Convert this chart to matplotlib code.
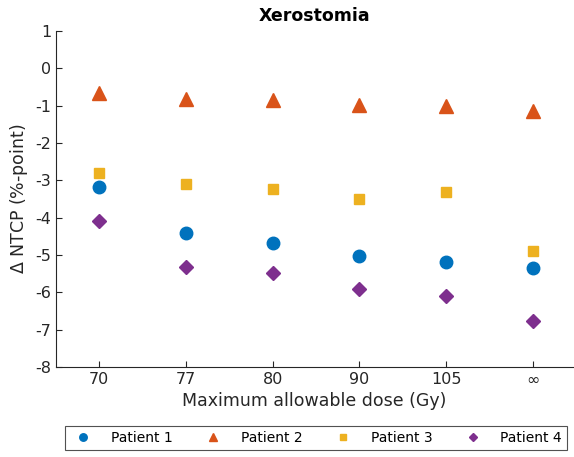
import matplotlib
matplotlib.use('Agg')
import matplotlib.pyplot as plt
import numpy as np

plt.rcParams['axes.unicode_minus'] = False

# 数据
dose_labels = ['70', '77', '80', '90', '105', r'$\infty$']
patient1 = [-3.19, -4.42, -4.69, -5.04, -5.20, -5.34]
patient2 = [-0.67, -0.83, -0.86, -0.97, -1.02, -1.13]
patient3 = [-2.79, -3.11, -3.24, -3.49, -3.30, -4.88]
patient4 = [-4.10, -5.31, -5.47, -5.92, -6.11, -6.78]
names = ['Patient 1', 'Patient 2', 'Patient 3', 'Patient 4']

colors = ['#0072BD', '#D95319', '#EDB120', '#7E2F8E']
markers = ['o', '^', 's', 'D']
sizes = [9, 9.5, 7.5, 7]

fig = plt.figure(figsize=(5.74, 4.57), dpi=100)
ax = fig.add_axes([0.0976, 0.197, 0.9, 0.735])

x = np.arange(1, len(dose_labels) + 1)
for y, c, m, s, n in zip([patient1, patient2, patient3, patient4], colors, markers, sizes, names):
    ax.plot(x, y, linestyle='none', marker=m, color=c, markersize=s,
            markeredgecolor=c, label=n)

ax.set_xlim(0.5, 6.46)
ax.set_ylim(-8, 1)
ax.set_xticks(x)
ax.set_xticklabels(dose_labels)
ax.set_yticks(np.arange(-8, 2, 1))
ax.tick_params(direction='in', labelsize=11.5, colors='#262626', length=4)
for sp in ['top', 'right']:
    ax.spines[sp].set_visible(False)
for sp in ['left', 'bottom']:
    ax.spines[sp].set_color('#262626')
ax.set_xlabel('Maximum allowable dose (Gy)', fontsize=12.5, color='#262626', labelpad=4)
ax.set_ylabel(r'$\Delta$ NTCP (%-point)', fontsize=12.5, color='#262626', labelpad=4)
ax.set_title('Xerostomia', fontsize=12.5, fontweight='bold', pad=7)

leg = fig.legend(loc='lower center', bbox_to_anchor=(0.55, 0.0), ncol=4, fontsize=10,
                 frameon=True, fancybox=False, edgecolor='#262626', markerscale=0.6,
                 columnspacing=1.9, handletextpad=1.0, handlelength=2.0, borderpad=0.35)
leg.get_frame().set_linewidth(0.8)

plt.savefig('out.png', dpi=100)
